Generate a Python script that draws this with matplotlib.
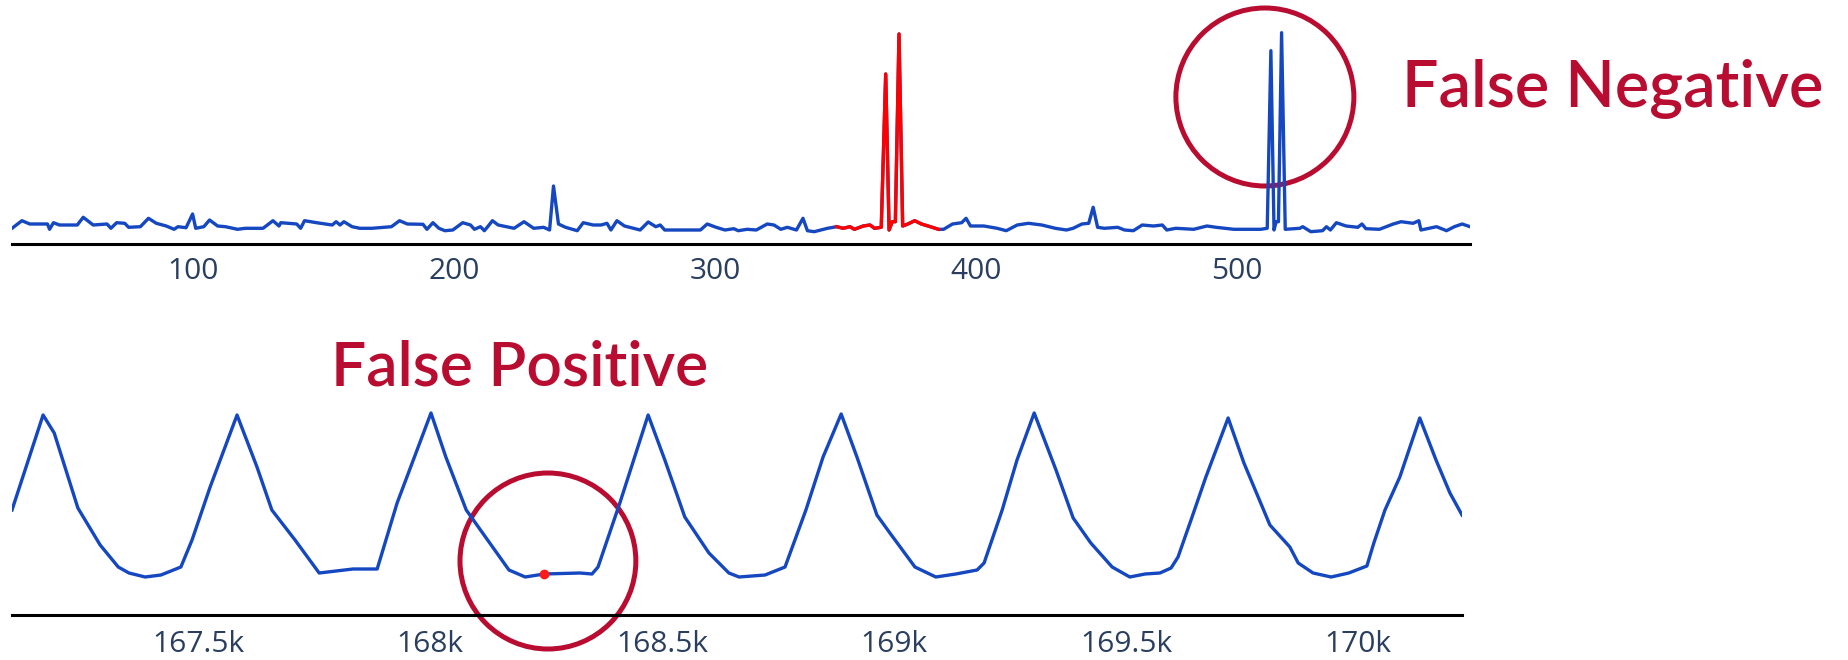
import matplotlib
matplotlib.use('Agg')
from matplotlib import pyplot as plt
from matplotlib.patches import Ellipse

# top series (index, value) - red part is the detected anomaly window
top_x = [30.6, 34.4, 37.4, 44.2, 45.0, 46.5, 48.8, 55.6, 57.9, 61.7, 67.0, 68.5, 70.7, 73.8, 75.3,
         79.8, 82.9, 85.9, 89.7, 92.7, 94.2, 97.3, 99.8, 101.0, 104.1, 106.3, 109.4, 112.4, 117.0,
         120.0, 126.8, 130.6, 132.9, 133.6, 139.7, 141.2, 142.7, 147.3, 153.3, 154.8, 156.3, 157.8,
         160.9, 163.9, 168.5, 176.0, 179.1, 182.1, 188.1, 189.6, 191.9, 194.2, 196.5, 199.5, 203.3,
         206.3, 207.8, 210.1, 211.6, 213.1, 214.7, 216.9, 223.0, 226.8, 230.5, 234.3, 236.6, 238.1,
         240.0, 242.7, 247.2, 249.5, 253.3, 256.3, 258.6, 260.1, 262.4, 265.3, 271.3, 274.4, 277.3,
         279.0, 280.7, 285.8, 294.4, 297.0, 300.4, 303.8, 307.2, 308.9, 312.3, 315.8, 320.0, 322.6,
         325.2, 327.7, 331.2, 333.7, 335.4, 338.0, 343.1, 346.6, 349.1, 351.7, 353.4, 356.8, 359.4,
         361.1, 363.7, 365.4, 366.7, 367.9, 369.1, 370.5, 371.9, 373.9, 376.5, 379.1, 382.5, 385.6,
         387.6, 391.0, 394.5, 396.2, 397.9, 403.0, 408.1, 411.6, 415.8, 420.1, 425.2, 430.4, 434.7,
         437.2, 440.6, 443.2, 444.9, 446.6, 449.2, 454.3, 456.9, 460.3, 463.7, 468.0, 471.4, 473.1,
         476.6, 483.4, 488.5, 492.0, 498.8, 502.2, 509.1, 511.6, 513.0, 514.2, 515.0, 515.9, 517.1,
         518.5, 524.1, 525.2, 528.3, 532.8, 534.3, 535.8, 538.1, 541.8, 546.3, 547.9, 549.4, 554.6,
         559.9, 562.9, 567.5, 569.7, 570.5, 576.5, 580.3, 583.3, 586.3, 589.3]
top_y = [1.57, 2.33, 2.0, 2.0, 1.47, 2.13, 1.9, 1.9, 2.67, 1.9, 2.0, 1.57, 2.13, 2.07, 1.67,
         1.73, 2.57, 2.07, 1.8, 1.47, 1.73, 1.63, 3.0, 1.57, 1.73, 2.4, 1.8, 1.73, 1.47,
         1.57, 1.57, 2.33, 1.8, 2.13, 2.0, 1.57, 2.33, 2.13, 1.9, 2.23, 1.9, 2.23,
         1.73, 1.57, 1.57, 1.73, 2.33, 2.0, 1.97, 1.47, 2.13, 1.57, 1.33, 1.4, 2.13,
         1.9, 1.47, 1.73, 1.33, 1.8, 2.33, 1.9, 1.57, 2.23, 1.57, 1.67, 1.4, 5.8,
         2.0, 1.67, 1.33, 2.13, 1.9, 1.9, 2.07, 1.4, 2.33, 1.8, 1.4, 2.2, 1.73,
         1.9, 1.4, 1.4, 1.4, 2.0, 1.67, 1.4, 1.53, 1.33, 1.47, 1.4, 2.0, 1.9,
         1.47, 1.67, 1.4, 2.57, 1.33, 1.23, 1.57, 1.73, 1.57, 1.73, 1.47, 1.8, 1.9,
         1.57, 1.67, 17.0, 1.4, 2.23, 2.23, 21.0, 1.8, 2.0, 2.33, 2.0, 1.73, 1.47,
         1.47, 2.0, 2.13, 2.57, 1.8, 1.8, 1.57, 1.33, 1.9, 2.07, 1.9, 1.57, 1.4,
         1.57, 2.0, 2.07, 3.67, 1.67, 1.57, 1.67, 1.4, 1.33, 1.9, 1.8, 1.9, 1.4,
         1.57, 1.47, 1.8, 1.67, 1.47, 1.47, 1.47, 1.57, 19.33, 1.4, 2.23, 2.23, 21.13,
         1.47, 1.57, 1.73, 1.23, 1.33, 1.73, 1.4, 2.13, 1.8, 1.67, 2.0, 1.53, 1.47,
         2.0, 2.23, 2.07, 2.33, 1.4, 1.73, 1.33, 1.73, 2.0, 1.73]
anomaly_start = 346
anomaly_end = 386
top_ticks = [100, 200, 300, 400, 500]

# bottom series (periodic signal) with a single flagged point
bot_x = [167099, 167166, 167190, 167241, 167289, 167328, 167351, 167386, 167420, 167463, 167487,
         167526, 167584, 167627, 167659, 167709, 167761, 167834, 167886, 167929, 168002, 168034,
         168078, 168170, 168205, 168246, 168323, 168349, 168362, 168409, 168470, 168506, 168549,
         168601, 168644, 168666, 168722, 168765, 168810, 168847, 168886, 168920, 168963, 168991,
         169045, 169090, 169133, 169179, 169194, 169233, 169265, 169302, 169349, 169386, 169424,
         169470, 169508, 169541, 169573, 169597, 169612, 169640, 169672, 169720, 169754, 169810,
         169853, 169871, 169903, 169942, 169980, 170019, 170034, 170058, 170090, 170133, 170168,
         170198, 170224]
bot_y = [1.05, 2.0, 1.82, 1.07, 0.70, 0.48, 0.42, 0.38, 0.40, 0.48, 0.75,
         1.28, 2.0, 1.48, 1.05, 0.75, 0.42, 0.46, 0.46, 1.12, 2.02, 1.58,
         1.05, 0.45, 0.38, 0.41, 0.42, 0.41, 0.48, 1.12, 2.0, 1.55, 0.98,
         0.62, 0.42, 0.38, 0.40, 0.48, 1.05, 1.58, 2.01, 1.58, 1.0, 0.82,
         0.48, 0.38, 0.41, 0.45, 0.52, 1.05, 1.55, 2.02, 1.45, 0.97, 0.72,
         0.48, 0.38, 0.41, 0.42, 0.47, 0.58, 0.95, 1.38, 1.97, 1.52, 0.90,
         0.68, 0.52, 0.42, 0.38, 0.42, 0.49, 0.72, 1.05, 1.38, 1.97, 1.55,
         1.22, 1.0]
flag_x = [168246]
flag_y = [0.41]
bot_ticks = [167500, 168000, 168500, 169000, 169500, 170000]
bot_labels = ['167.5k', '168k', '168.5k', '169k', '169.5k', '170k']

blue = '#1447c0'
mark = '#b80c30'
tickcol = '#2a3f5f'

plt.rcParams['font.family'] = ['Open Sans', 'DejaVu Sans']

fig = plt.figure(figsize=(18.49, 6.6), dpi=100)

ax1 = fig.add_axes([12/1849, 1 - 244/660, 1458/1849, 244/660])
ax1.plot(top_x, top_y, color=blue, linewidth=2.4)
red_x = [x for x in top_x if anomaly_start <= x <= anomaly_end]
red_y = [y for x, y in zip(top_x, top_y) if anomaly_start <= x <= anomaly_end]
ax1.plot(red_x, red_y, color='#ff0000', linewidth=2.4)
ax1.set_xlim(30.6, 589.3)
ax1.set_ylim(0, 24.4)
ax1.set_xticks(top_ticks)
ax1.set_yticks([])
ax1.add_patch(Ellipse((510.7, 14.7), 68.2, 17.8, fill=False, edgecolor=mark,
                      linewidth=3.6, clip_on=False))

ax2 = fig.add_axes([12/1849, 45/660, 1450/1849, 215/660])
ax2.plot(bot_x, bot_y, color=blue, linewidth=2.4)
ax2.plot(flag_x, flag_y, 'o', color='#ff1a1a', markersize=6)
ax2.set_xlim(167099, 170224)
ax2.set_ylim(0, 2.15)
ax2.set_xticks(bot_ticks)
ax2.set_xticklabels(bot_labels)
ax2.set_yticks([])
ax2.add_patch(Ellipse((168254, 0.54), 379, 1.76, fill=False, edgecolor=mark,
                      linewidth=3.6, clip_on=False))

for ax, pad in ((ax1, 9.5), (ax2, 10.5)):
    for s in ['top', 'left', 'right']:
        ax.spines[s].set_visible(False)
    ax.spines['bottom'].set_linewidth(2.2)
    ax.spines['bottom'].set_color('black')
    ax.tick_params(axis='x', length=0, pad=pad, labelsize=21.5, labelcolor=tickcol)

fig.text(1402/1849, 1 - 107/660, 'False Negative', color=mark, fontsize=46.5,
         family=['Lato', 'DejaVu Sans'], weight='semibold', va='baseline', ha='left')
fig.text(331/1849, 1 - 385/660, 'False Positive', color=mark, fontsize=44.8,
         family=['Lato', 'DejaVu Sans'], weight='semibold', va='baseline', ha='left')

fig.savefig('out.png', dpi=100)
